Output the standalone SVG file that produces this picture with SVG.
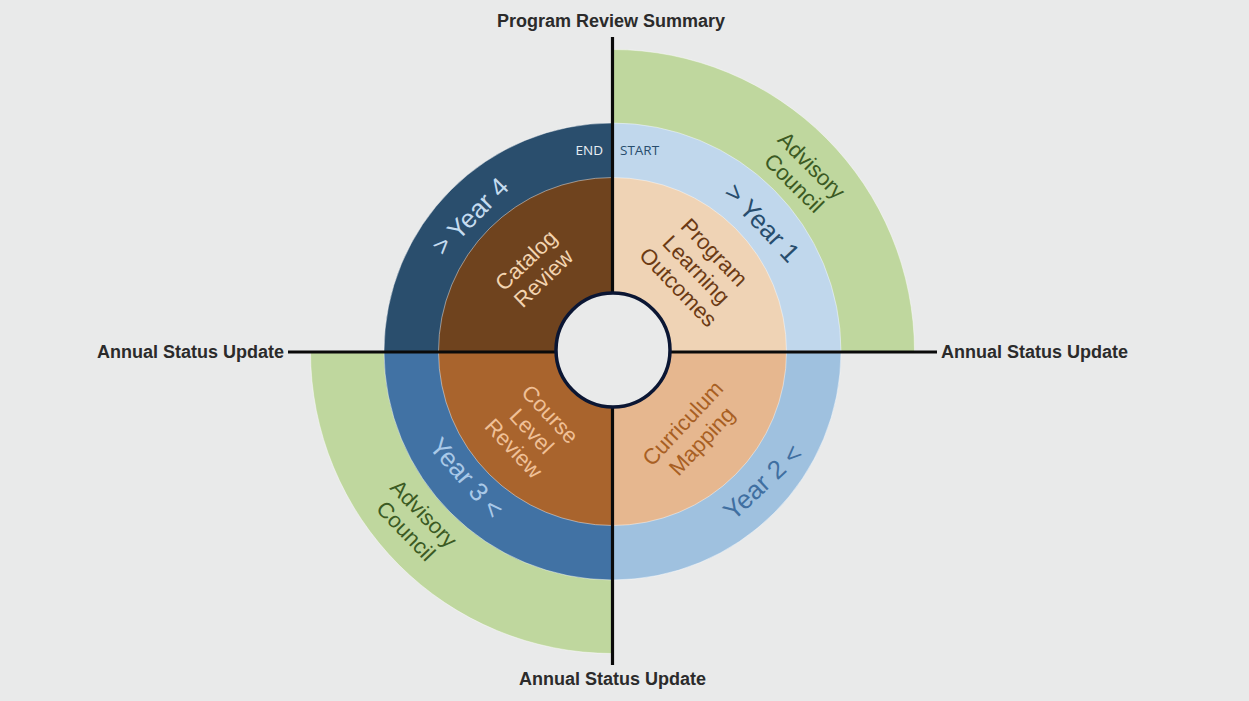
<svg xmlns="http://www.w3.org/2000/svg" width="1249" height="701" viewBox="0 0 1249 701">
<style>
.ring{stroke:#ffffff;stroke-opacity:0.55;stroke-width:0.8}
.lbl{font-family:"Liberation Sans",Arial,sans-serif;font-size:22px;text-anchor:middle}
.yr{font-family:"Liberation Sans",Arial,sans-serif;font-size:26px;text-anchor:middle}
.ann{font-family:"Liberation Sans",Arial,sans-serif;font-size:18px;font-weight:bold;fill:#2b2b2b}
.se{font-family:"Open Sans","Noto Sans",sans-serif;font-size:13.5px}
.axis{stroke:#0a0a0a;stroke-width:3.2;fill:none}
</style>
<rect width="1249" height="701" fill="#e9eaea"/>

<g id="quadrant-year1">
<path class="ring" d="M612.5,351.5 L612.5,49.5 A302,302 0 0 1 914.5,351.5 Z" fill="#bfd79e"/>
<path class="ring" d="M612.5,351.5 L612.5,123 A228.5,228.5 0 0 1 841,351.5 Z" fill="#c0d7ec"/>
<path class="ring" d="M612.5,351.5 L612.5,177.5 A174,174 0 0 1 786.5,351.5 Z" fill="#efd3b5"/>
<text class="lbl" fill="#6b3a14" transform="translate(696.5,269.5) rotate(46)"><tspan x="0" y="-17.2">Program</tspan><tspan x="0" y="7.8">Learning</tspan><tspan x="0" y="32.8">Outcomes</tspan></text>
<text class="yr" fill="#284d6d" transform="translate(762.5,222.5) rotate(47)" y="9.3">&gt; Year 1</text>
<text class="lbl" fill="#3b5a23" transform="translate(803,174) rotate(45)"><tspan x="0" y="-4.7">Advisory</tspan><tspan x="0" y="20.3">Council</tspan></text>
<text class="se" fill="#284d6d" x="620" y="155">START</text>
</g>

<g id="quadrant-year2">
<path class="ring" d="M612.5,351.5 L841,351.5 A228.5,228.5 0 0 1 612.5,580 Z" fill="#9fc1df"/>
<path class="ring" d="M612.5,351.5 L786.5,351.5 A174,174 0 0 1 612.5,525.5 Z" fill="#e6b78f"/>
<text class="lbl" fill="#a85f23" transform="translate(692,432) rotate(-47)"><tspan x="0" y="-5.2">Curriculum</tspan><tspan x="0" y="20.8">Mapping</tspan></text>
<text class="yr" fill="#3f6fa1" transform="translate(762.5,481.7) rotate(-43)" y="9.3">Year 2 &lt;</text>
</g>

<g id="quadrant-year3">
<path class="ring" d="M612.5,351.5 L612.5,653.5 A302,302 0 0 1 310.5,351.5 Z" fill="#bfd79e"/>
<path class="ring" d="M612.5,351.5 L612.5,580 A228.5,228.5 0 0 1 384,351.5 Z" fill="#4172a4"/>
<path class="ring" d="M612.5,351.5 L612.5,525.5 A174,174 0 0 1 438.5,351.5 Z" fill="#a9642d"/>
<text class="lbl" fill="#f0c097" transform="translate(532,431) rotate(46.8)"><tspan x="0" y="-17.2">Course</tspan><tspan x="0" y="7.8">Level</tspan><tspan x="0" y="32.8">Review</tspan></text>
<text class="yr" fill="#a9c9e8" transform="translate(466.7,477.5) rotate(49)" y="9.3">Year 3 &lt;</text>
<text class="lbl" fill="#3b5a23" transform="translate(415,522) rotate(46)"><tspan x="0" y="-4.7">Advisory</tspan><tspan x="0" y="20.3">Council</tspan></text>
</g>

<g id="quadrant-year4">
<path class="ring" d="M612.5,351.5 L384,351.5 A228.5,228.5 0 0 1 612.5,123 Z" fill="#2a4e6d"/>
<path class="ring" d="M612.5,351.5 L438.5,351.5 A174,174 0 0 1 612.5,177.5 Z" fill="#6f431e"/>
<text class="lbl" fill="#f3d4b0" transform="translate(534.6,269) rotate(-44)"><tspan x="0" y="-4.7">Catalog</tspan><tspan x="0" y="20.3">Review</tspan></text>
<text class="yr" fill="#c5dcf0" transform="translate(470,216) rotate(-45.5)" y="9.3">&gt; Year 4</text>
<text class="se" fill="#e8eef4" x="603" y="155" text-anchor="end">END</text>
</g>

<g id="connectors">
<line class="axis" x1="612.5" y1="37" x2="612.5" y2="665"/>
<line class="axis" x1="288" y1="352" x2="937" y2="352"/>
</g>

<g id="hub">
<circle cx="613" cy="350" r="57" fill="#e9eaea" stroke="#0b1633" stroke-width="3.5"/>
</g>

<g id="labels">
<text class="ann" x="611" y="27" text-anchor="middle">Program Review Summary</text>
<text class="ann" x="284" y="358" text-anchor="end">Annual Status Update</text>
<text class="ann" x="941" y="358">Annual Status Update</text>
<text class="ann" x="612.5" y="685" text-anchor="middle">Annual Status Update</text>
</g>
</svg>
